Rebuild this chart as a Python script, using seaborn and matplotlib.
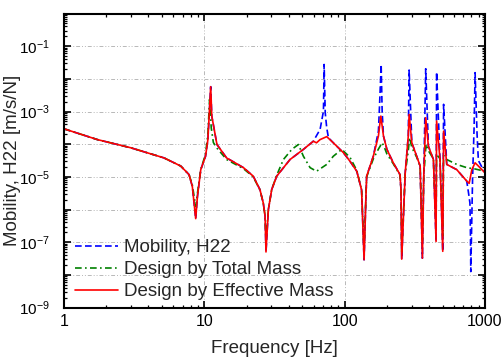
import matplotlib
matplotlib.use("Agg")
import matplotlib.pyplot as plt
import numpy as np
import pandas as pd
import seaborn as sns
from matplotlib.ticker import FixedLocator, FuncFormatter, NullFormatter

# ---------------- data ----------------
freq_eff = [1.0, 1.73, 2.99, 5.16, 6.79, 7.78, 8.21, 8.68, 8.93, 9.43, 10.2, 10.6, 11.1, 11.3,
            12.3, 14.4, 19.0, 22.3, 24.9, 26.3, 27.1, 27.5, 28.6, 30.2, 32.8, 40.8, 50.8, 59.8,
            63.0, 66.8, 74.5, 83.0, 97.9, 109, 122, 132, 137.5, 142, 143.5, 160, 174, 181, 189,
            200, 222, 248, 252, 255, 270, 284, 288, 301, 326, 345, 358, 366, 378, 395, 429, 448,
            452, 478, 500, 507, 534, 629, 741, 771, 806, 850, 897, 1000]
mob_eff = [2.95e-4, 1.38e-4, 7.76e-5, 3.80e-5, 2.14e-5, 1.17e-5, 5.13e-6, 5.25e-7, 2.51e-6, 1.66e-5,
           4.27e-5, 1.38e-4, 5.75e-3, 7.24e-4, 9.77e-5, 3.80e-5, 1.91e-5, 1.05e-5, 4.07e-6, 1.58e-6,
           6.17e-7, 5.01e-8, 1.0e-6, 4.07e-6, 1.05e-5, 3.39e-5, 6.92e-5, 1.23e-4, 1.10e-4, 1.38e-4,
           1.70e-4, 1.10e-4, 5.50e-5, 3.02e-5, 1.48e-5, 3.98e-6, 2.88e-8, 3.24e-6, 1.05e-5, 4.27e-5,
           1.78e-4, 7.24e-4, 1.78e-4, 6.92e-5, 2.69e-5, 1.17e-5, 3.98e-6, 3.02e-8, 1.32e-5, 1.78e-4,
           8.13e-4, 1.10e-4, 4.27e-5, 2.14e-5, 3.24e-8, 1.0e-5, 6.46e-4, 8.71e-5, 3.39e-5, 1.05e-7,
           5.13e-4, 3.39e-5, 5.25e-8, 2.51e-4, 2.40e-5, 1.66e-5, 7.41e-6, 6.31e-6, 1.66e-5, 2.69e-5,
           2.14e-5, 1.32e-5]

freq_h22 = [1.0, 1.73, 2.99, 5.16, 6.79, 7.78, 8.21, 8.68, 8.93, 9.43, 10.2, 10.6, 11.1, 11.3,
            12.3, 14.4, 19.0, 22.3, 24.9, 26.3, 27.1, 27.5, 28.6, 30.2, 32.8, 40.8, 50.8, 59.8,
            66.8, 70.6, 71.4, 72.7, 74.5, 76.6, 83.0, 97.9, 109, 122, 132, 137.5, 142, 143.5, 160,
            174, 177, 182, 185, 189, 200, 222, 248, 252, 255, 270, 284, 288, 301, 326, 345, 358,
            366, 378, 395, 429, 448, 452, 478, 500, 507, 534, 629, 741, 763, 781, 788, 792, 816,
            836, 850, 878, 897, 1000]
mob_h22 = [2.95e-4, 1.38e-4, 7.76e-5, 3.80e-5, 2.14e-5, 1.17e-5, 5.13e-6, 5.25e-7, 2.51e-6, 1.66e-5,
           4.27e-5, 1.38e-4, 5.75e-3, 7.24e-4, 9.77e-5, 3.80e-5, 1.91e-5, 1.05e-5, 4.07e-6, 1.58e-6,
           6.17e-7, 5.01e-8, 1.0e-6, 4.07e-6, 1.05e-5, 3.39e-5, 6.92e-5, 1.23e-4,
           2.82e-4, 1.02e-3, 2.75e-2, 9.12e-4, 3.16e-4, 1.58e-4, 1.10e-4, 5.50e-5, 3.02e-5, 1.48e-5,
           3.98e-6, 2.88e-8, 3.24e-6, 1.05e-5, 4.27e-5,
           2.51e-4, 1.35e-3, 2.75e-2, 1.0e-3, 1.78e-4, 6.92e-5, 2.69e-5, 1.17e-5, 3.98e-6, 3.02e-8,
           1.32e-5, 1.78e-4, 1.86e-2, 1.10e-4, 4.27e-5, 2.14e-5, 3.24e-8,
           1.0e-5, 2.04e-2, 8.71e-5, 3.39e-5, 1.05e-7, 1.62e-2, 3.39e-5, 5.25e-8, 1.66e-3, 2.40e-5,
           1.66e-5, 7.41e-6, 3.24e-6, 1.58e-6, 1.51e-7, 1.26e-8, 1.0e-5,
           3.16e-4, 1.55e-2, 2.0e-4, 3.16e-5, 1.32e-5]

freq_tot = [1.0, 1.73, 2.99, 5.16, 6.79, 7.78, 8.21, 8.68, 8.93, 9.43, 10.2, 10.6, 10.9, 11.2,
            11.6, 12.3, 14.4, 19.0, 22.3, 24.9, 26.3, 27.1, 27.5, 28.6, 30.2, 32.8, 36.6, 42.0,
            46.8, 50.8, 56.7, 63.0, 74.5, 83.0, 95.3, 109, 122, 132, 137.5, 142, 143.5, 160, 174,
            185, 192, 200, 222, 248, 252, 255, 270, 284, 290, 301, 326, 345, 358, 366, 380, 395,
            429, 448, 452, 478, 500, 507, 534, 629, 741, 850, 1000]
mob_tot = [2.95e-4, 1.38e-4, 7.76e-5, 3.80e-5, 2.14e-5, 1.17e-5, 5.62e-6, 1.26e-6, 3.16e-6, 1.66e-5,
           5.01e-5, 2.0e-4, 2.34e-3, 3.16e-4, 1.12e-4, 7.59e-5, 3.39e-5, 1.78e-5, 1.0e-5, 3.98e-6,
           1.58e-6, 6.31e-7, 1.0e-7, 1.0e-6, 4.07e-6, 1.12e-5, 3.39e-5, 6.92e-5, 9.77e-5, 4.27e-5,
           1.91e-5, 1.48e-5, 2.40e-5, 4.27e-5, 6.92e-5, 3.98e-5, 1.58e-5, 3.98e-6, 5.01e-8, 3.24e-6,
           1.0e-5, 3.55e-5, 7.08e-5, 1.10e-4, 7.94e-5, 5.01e-5, 2.51e-5, 1.12e-5, 3.98e-6, 5.01e-8,
           1.26e-5, 6.31e-5, 1.58e-4, 7.94e-5, 3.98e-5, 2.14e-5, 1.0e-7, 1.0e-5, 1.0e-4, 6.31e-5,
           3.55e-5, 3.16e-7, 5.01e-5, 3.55e-5, 1.58e-7, 4.47e-5, 3.39e-5, 2.40e-5, 1.91e-5, 1.74e-5,
           1.48e-5]

x_ticks = [1, 10, 100, 1000]
x_tick_labels = ["1", "10", "100", "1000"]
y_exponents = [-9, -8, -7, -6, -5, -4, -3, -2, -1, 0]
labels = ["Mobility, H22", "Design by Total Mass", "Design by Effective Mass"]

# ---------------- style ----------------
sns.set_style("ticks")
plt.rcParams["font.family"] = ["Liberation Sans", "DejaVu Sans"]
plt.rcParams["mathtext.fontset"] = "custom"
plt.rcParams["mathtext.rm"] = "Liberation Sans"

fig = plt.figure(figsize=(5.02, 3.61), dpi=100)
ax = fig.add_axes([64 / 502, 1 - 307.5 / 361, 421 / 502, 294 / 361])

series = [
    (freq_h22, mob_h22, "#0000ff", (0, (4, 2)), labels[0]),
    (freq_tot, mob_tot, "#008000", (0, (4, 2, 1, 2)), labels[1]),
    (freq_eff, mob_eff, "#ff0000", "-", labels[2]),
]
for f, v, c, ls, lab in series:
    df = pd.DataFrame({"Frequency": f, "Mobility": v})
    sns.lineplot(data=df, x="Frequency", y="Mobility", ax=ax, color=c, linestyle=ls,
                 linewidth=1.2, label=lab, estimator=None, sort=False)

ax.set_xscale("log")
ax.set_yscale("log")
ax.set_xlim(1, 1000)
ax.set_ylim(1e-9, 1)

ax.xaxis.set_major_locator(FixedLocator(x_ticks))
ax.xaxis.set_major_formatter(FuncFormatter(lambda v, p: x_tick_labels[x_ticks.index(round(v))] if round(v) in x_ticks else ""))
ax.xaxis.set_minor_locator(FixedLocator([m * 10 ** d for d in range(0, 3) for m in range(2, 10)]))
ax.xaxis.set_minor_formatter(NullFormatter())

yt = [10.0 ** e for e in y_exponents]
ax.yaxis.set_major_locator(FixedLocator(yt))
def yfmt(v, p):
    e = int(round(np.log10(v)))
    return r"$\mathregular{10^{%d}}$" % e if e % 2 != 0 else ""
ax.yaxis.set_major_formatter(FuncFormatter(yfmt))
ax.yaxis.set_minor_locator(FixedLocator([m * 10.0 ** d for d in range(-9, 0) for m in range(2, 10)]))
ax.yaxis.set_minor_formatter(NullFormatter())

ax.grid(True, which="major", color="#b8b8b8", linestyle=(0, (4, 2, 1, 2, 1, 2)), linewidth=0.7)
ax.tick_params(which="both", direction="in", top=True, right=True, colors="black")
ax.tick_params(which="major", length=5, width=1.2)
ax.tick_params(which="minor", length=2.5, width=0.9)
ax.tick_params(axis="x", which="major", pad=5, labelsize=11.5)
ax.tick_params(axis="y", which="major", pad=10, labelsize=11)
for s in ax.spines.values():
    s.set_linewidth(1.5)
    s.set_color("black")

ax.set_xlabel("Frequency [Hz]", fontsize=13.5)
ax.set_ylabel("Mobility, H22 [m/s/N]", fontsize=13.5)
ax.xaxis.set_label_coords(0.5, -0.112)
ax.yaxis.set_label_coords(-0.103, 0.5)

ax.legend(loc="lower left", bbox_to_anchor=(0.026, 0.025), frameon=False, fontsize=13.5,
          handlelength=2.3, handletextpad=0.3, labelspacing=0.26, borderaxespad=0, borderpad=0)

fig.savefig("out.png", dpi=100)
